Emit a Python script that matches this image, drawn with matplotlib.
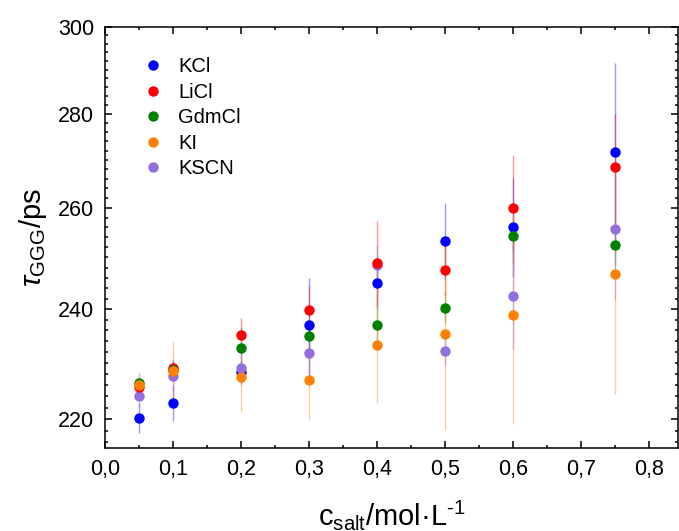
import matplotlib
matplotlib.use("Agg")
import matplotlib.pyplot as plt
from matplotlib.ticker import FixedLocator, NullFormatter, FuncFormatter, MultipleLocator
from matplotlib.colors import to_rgba

plt.rcParams['font.family'] = ['Liberation Sans', 'DejaVu Sans']
plt.rcParams['mathtext.fontset'] = 'custom'
plt.rcParams['mathtext.rm'] = 'Liberation Sans'
plt.rcParams['mathtext.it'] = 'Liberation Sans:italic'
plt.rcParams['mathtext.sf'] = 'Liberation Sans'

# salt concentration, mol/L
conc = [0.05, 0.1, 0.2, 0.3, 0.4, 0.5, 0.6, 0.75]

# tau_GGG in ps and its error, per salt
kcl = [220.3, 222.9, 228.4, 237.0, 245.0, 253.2, 256.1, 271.8]
kcl_err = [2.6, 3.2, 2.0, 9.0, 5.0, 7.7, 10.0, 19.8]
licl = [225.6, 229.0, 235.1, 239.9, 248.9, 247.6, 259.9, 268.5]
licl_err = [1.5, 1.5, 3.2, 4.6, 8.5, 5.0, 11.1, 11.6]
gdmcl = [226.3, 228.8, 232.7, 235.0, 237.0, 240.3, 254.2, 252.5]
gdmcl_err = [1.9, 1.5, 4.0, 3.0, 3.0, 3.0, 3.0, 4.0]
ki = [226.0, 228.6, 227.5, 227.0, 233.3, 235.4, 238.9, 246.8]
ki_err = [1.0, 5.4, 6.2, 6.9, 10.5, 17.3, 19.7, 22.4]
kscn = [224.1, 227.7, 229.1, 231.8, 248.5, 232.1, 242.5, 255.7]
kscn_err = [2.0, 3.0, 3.0, 4.0, 4.0, 2.7, 10.0, 14.0]

names = ['KCl', 'LiCl', 'GdmCl', 'KI', 'KSCN']
values = [kcl, licl, gdmcl, ki, kscn]
errors = [kcl_err, licl_err, gdmcl_err, ki_err, kscn_err]
colors = ['#0000ff', '#ff0000', '#008000', '#ff8000', '#9370db']
zorders = [3, 5, 6, 7, 4]

fig = plt.figure(figsize=(6.79, 5.31), dpi=100)
ax = fig.add_axes([0.1546, 0.1557, 0.8439, 0.7940])

for name, v, e, c, z in zip(names, values, errors, colors, zorders):
    ax.errorbar(conc, v, yerr=e, fmt='none', ecolor=to_rgba(c, 0.4),
                elinewidth=1.0, capsize=0, zorder=2)
    ax.plot(conc, v, 'o', color=c, markersize=7.5, markeredgewidth=0,
            label=name, zorder=z)

ax.set_yscale('log')
ax.set_ylim(215, 300)
ax.set_xlim(0.0, 0.843)

ax.yaxis.set_major_locator(FixedLocator([220, 240, 260, 280, 300]))
ax.yaxis.set_minor_locator(FixedLocator(list(range(216, 300, 2))))
ax.yaxis.set_major_formatter(FuncFormatter(lambda v, p: '%d' % round(v)))
ax.yaxis.set_minor_formatter(NullFormatter())

ax.xaxis.set_major_locator(MultipleLocator(0.1))
ax.xaxis.set_minor_locator(MultipleLocator(0.05))
ax.xaxis.set_major_formatter(FuncFormatter(lambda v, p: ('%.1f' % v).replace('.', ',')))

ax.tick_params(which='both', direction='in', top=True, right=True, width=1.1,
               labelsize=15.5)
ax.tick_params(axis='y', pad=8)
ax.tick_params(axis='x', pad=8)
ax.tick_params(which='major', length=5)
ax.tick_params(which='minor', length=2.5)
for s in ax.spines.values():
    s.set_linewidth(1.1)

ax.set_xlabel('c$_{\\mathrm{salt}}$/mol·L$^{\\text{-1}}$', fontsize=21, labelpad=13)
ax.set_ylabel('$\\tau_{\\mathrm{GGG}}$/ps', fontsize=21, labelpad=6)

ax.legend(loc='upper left', bbox_to_anchor=(0.035, 0.97), frameon=False,
          fontsize=14.5, handletextpad=0.75, labelspacing=0.32, handlelength=1.0,
          markerscale=1.0)

fig.savefig('out.png', dpi=100)
